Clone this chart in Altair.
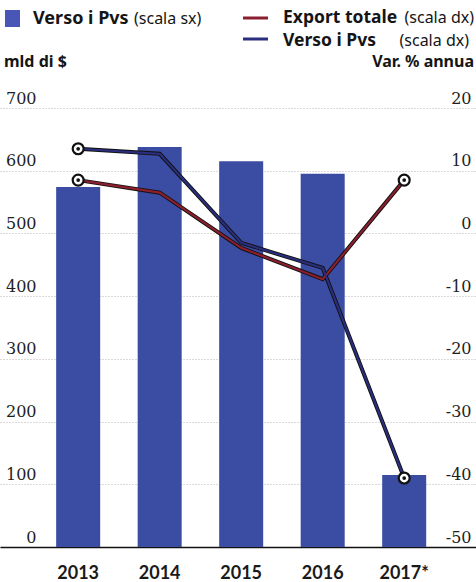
import altair as alt
import pandas as pd

# Annual series
years = ["2013", "2014", "2015", "2016", "2017*"]
verso_pvs_mld = [574, 638, 615, 595, 115]        # bars, left scale (mld di $)
export_totale_var = [8.5, 6.5, -2.3, -7.3, 8.5]  # line, right scale (var. % annua)
verso_pvs_var = [13.5, 12.7, -1.5, -5.5, -39.0]  # line, right scale (var. % annua)

left_ticks = [0, 100, 200, 300, 400, 500, 600, 700]
right_ticks = [-50, -40, -30, -20, -10, 0, 10, 20]

BAR_BLUE = "#3b4ca3"
LINE_RED = "#8c1f2e"
LINE_BLUE = "#2a2e7c"
SANS = "Lato"
HEAD = "Noto Sans"
SERIF = "DejaVu Serif"

bars_df = pd.DataFrame({"anno": years, "valore": verso_pvs_mld})
lines_df = pd.DataFrame({
    "anno": years * 2,
    "serie": ["Export totale"] * len(years) + ["Verso i Pvs"] * len(years),
    "var": export_totale_var + verso_pvs_var,
})
ends_df = lines_df[lines_df["anno"].isin([years[0], years[-1]])]

x_enc = alt.X(
    "anno:N",
    sort=years,
    scale=alt.Scale(paddingInner=0.46, paddingOuter=0.65, align=0.53),
    axis=alt.Axis(
        title=None, labelAngle=0, ticks=False, domain=True,
        domainColor="#111", domainWidth=1.6, labelPadding=17,
        labelFont=SANS, labelFontSize=18, labelColor="#1a1a1a",
        labelFontWeight="bold",
    ),
)

bars = alt.Chart(bars_df).mark_bar(color=BAR_BLUE).encode(
    x=x_enc,
    y=alt.Y(
        "valore:Q",
        scale=alt.Scale(domain=[0, 700], nice=False),
        axis=alt.Axis(
            orient="left", title=None, values=left_ticks, ticks=False,
            domain=False, grid=True, gridColor="#b5b5b5", gridDash=[1, 2],
            gridWidth=1, labelPadding=-36, labelAlign="right",
            labelBaseline="alphabetic", labelOffset=-5,
            labelFont=SERIF, labelFontSize=16, labelColor="#1e1e1e",
        ),
    ),
)

y_right = alt.Y(
    "var:Q",
    scale=alt.Scale(domain=[-50, 20], nice=False),
    axis=alt.Axis(
        orient="right", title=None, values=right_ticks, ticks=False,
        domain=False, grid=False, labelPadding=-5, labelAlign="right",
        labelBaseline="alphabetic", labelOffset=-5,
        labelExpr="datum.value < 0 ? '-' + abs(datum.value) : '' + datum.value",
        labelFont=SERIF, labelFontSize=16, labelColor="#1e1e1e",
    ),
)
line_colors = alt.Color(
    "serie:N",
    scale=alt.Scale(domain=["Export totale", "Verso i Pvs"],
                    range=[LINE_RED, LINE_BLUE]),
    legend=None,
)

# dark casing under each coloured line
casing = alt.Chart(lines_df).mark_line(color="#111", strokeWidth=4.0).encode(
    x=alt.X("anno:N", sort=years), y=y_right, detail="serie:N"
)
lines = alt.Chart(lines_df).mark_line(strokeWidth=2.2).encode(
    x=alt.X("anno:N", sort=years), y=y_right, color=line_colors
)
rings = alt.Chart(ends_df).mark_point(
    shape="circle", size=120, filled=True, fill="white",
    stroke="#111", strokeWidth=2.2, opacity=1,
).encode(x=alt.X("anno:N", sort=years), y=y_right)
dots = alt.Chart(ends_df).mark_point(
    shape="circle", size=14, filled=True, color="#111", opacity=1
).encode(x=alt.X("anno:N", sort=years), y=y_right)

right_layer = alt.layer(casing, lines, rings, dots)

# header: legend keys and scale captions (positions relative to plot top)
one = pd.DataFrame({"k": [0]})
TOP = 108


def label(text, x, y, size, bold, align="left", font=HEAD):
    return alt.Chart(one).mark_text(
        text=text, align=align, baseline="alphabetic", font=font,
        fontSize=size, fontWeight="bold" if bold else "normal", color="#151515",
    ).encode(x=alt.value(x), y=alt.value(y - TOP))


key_box = alt.Chart(one).mark_rect(color="#4a55b8").encode(
    x=alt.value(5), x2=alt.value(20), y=alt.value(10 - TOP), y2=alt.value(27 - TOP)
)
key_red = alt.Chart(one).mark_rule(color=LINE_RED, strokeWidth=3).encode(
    x=alt.value(243), x2=alt.value(268), y=alt.value(18 - TOP)
)
key_blue = alt.Chart(one).mark_rule(color=LINE_BLUE, strokeWidth=3).encode(
    x=alt.value(243), x2=alt.value(268), y=alt.value(39 - TOP)
)
header = alt.layer(
    key_box, key_red, key_blue,
    label("Verso i Pvs", 33, 24, 18, True),
    label("(scala sx)", 134, 24, 16, False),
    label("Export totale", 283, 23, 17.5, True),
    label("(scala dx)", 474, 23, 16, False, align="right"),
    label("Verso i Pvs", 283, 46, 17.5, True),
    label("(scala dx)", 469, 46, 16, False, align="right"),
    label("mld di $", 4, 67, 16, True),
    label("Var. % annua", 474, 67, 16, True, align="right"),
)

chart = (
    alt.layer(bars, right_layer, header)
    .resolve_scale(y="independent")
    .properties(
        width=476, height=439, autosize="none",
        padding={"left": 0, "top": TOP, "right": 0, "bottom": 35},
        background="white",
    )
    .configure_view(stroke=None)
)

chart.save("out.html", embed_options={"renderer": "svg", "actions": False})
